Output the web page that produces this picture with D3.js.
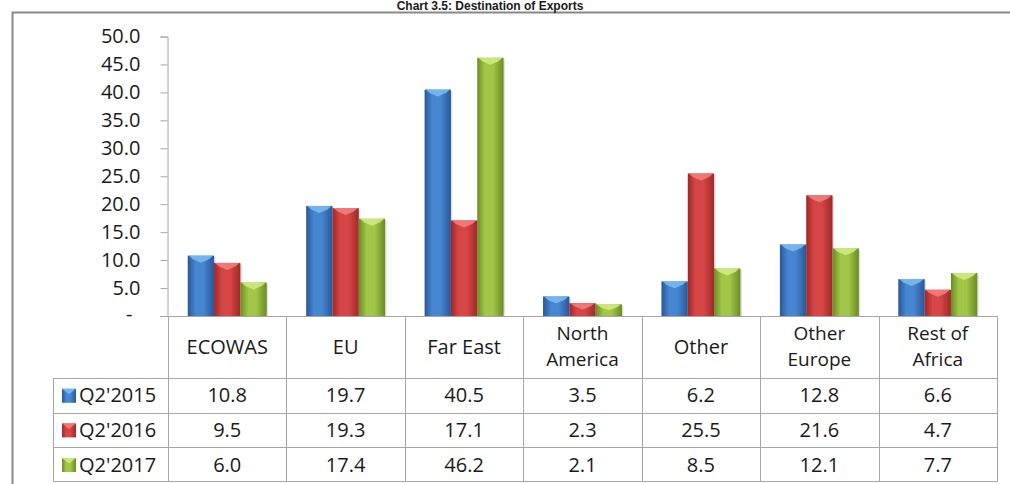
<!DOCTYPE html>
<html lang="en">
<head>
  <meta charset="UTF-8">
  <title>Destination of Exports</title>
  <style>
    body { margin: 0; background: #fff; }
    svg text { font-family: "Open Sans", sans-serif; fill: #1a1a1a; }
  </style>
</head>
<body>
  <div id="chart"></div>
  <script src="https://cdn.jsdelivr.net/npm/d3@7/dist/d3.min.js"></script>
  <script>
    // data
    const categories = ["ECOWAS", "EU", "Far East", "North America", "Other", "Other Europe", "Rest of Africa"]
    const categoryLines = [["ECOWAS"], ["EU"], ["Far East"], ["North", "America"], ["Other"], ["Other", "Europe"], ["Rest of", "Africa"]]
    const seriesNames = ["Q2'2015", "Q2'2016", "Q2'2017"]
    const q2015 = [10.8, 19.7, 40.5, 3.5, 6.2, 12.8, 6.6]
    const q2016 = [9.5, 19.3, 17.1, 2.3, 25.5, 21.6, 4.7]
    const q2017 = [6.0, 17.4, 46.2, 2.1, 8.5, 12.1, 7.7]
    const yTicks = [0, 5, 10, 15, 20, 25, 30, 35, 40, 45, 50]
    const seriesValues = [q2015, q2016, q2017]

    // colours: [edge, mid, top highlight]
    const colors = [
      ["#28579a", "#4786d0", "#7cbcf2"],
      ["#a02828", "#d64646", "#f48080"],
      ["#6a8c24", "#a2c648", "#d2ec86"]
    ]

    const W = 1010, H = 484
    const svg = d3.select("#chart").append("svg")
      .attr("width", W).attr("height", H)

    const defs = svg.append("defs")
    colors.forEach((c, i) => {
      const g = defs.append("linearGradient").attr("id", "grad" + i)
        .attr("x1", "0%").attr("x2", "100%").attr("y1", "0%").attr("y2", "0%")
      g.append("stop").attr("offset", "0%").attr("stop-color", c[0])
      g.append("stop").attr("offset", "30%").attr("stop-color", c[1])
      g.append("stop").attr("offset", "60%").attr("stop-color", c[1])
      g.append("stop").attr("offset", "100%").attr("stop-color", c[0])
    })

    // outer frame + title
    svg.append("path")
      .attr("d", `M12.5,${H} V12.5 H${W}`)
      .attr("fill", "none").attr("stroke", "#888").attr("stroke-width", 2)
    svg.append("text")
      .attr("x", 490).attr("y", 10)
      .attr("text-anchor", "middle")
      .attr("font-size", "12px").attr("font-weight", "bold")
      .style("font-family", "Liberation Sans, Arial, sans-serif")
      .text("Chart 3.5: Destination of Exports")

    // scales
    const plotLeft = 168, plotRight = 997
    const x0 = d3.scaleBand().domain(categories).range([plotLeft, plotRight])
    const bw = x0.bandwidth()
    const x1 = d3.scaleBand().domain(seriesNames).range([bw / 6, bw * 5 / 6])
    const y = d3.scaleLinear().domain([0, 50]).range([316, 36.5])

    const lineColor = "#a6a6a6"
    const fs = "20px"

    // y axis
    const yAxis = d3.axisLeft(y)
      .tickValues(yTicks)
      .tickSize(7)
      .tickPadding(20)
      .tickFormat(d => d === 0 ? "-" : d3.format(".1f")(d))
    const gy = svg.append("g")
      .attr("transform", `translate(${plotLeft - 0.5},0)`)
      .call(yAxis)
    gy.select(".domain").attr("stroke", lineColor)
    gy.selectAll(".tick line").attr("stroke", lineColor)
    gy.selectAll(".tick text")
      .attr("font-size", fs)
      .style("font-family", "Open Sans, sans-serif")
      .attr("fill", "#1a1a1a")
    gy.selectAll(".tick text").filter(d => d === 0).attr("dx", -8).attr("dy", "0.2em")

    // bars
    const groups = svg.append("g").selectAll("g")
      .data(categories)
      .join("g")
      .attr("transform", d => `translate(${x0(d)},0)`)

    seriesNames.forEach((s, si) => {
      const bars = groups.append("g")
      bars.append("rect")
        .attr("x", x1(s) + 1.5)
        .attr("y", (d, i) => y(seriesValues[si][i]) + 1.5)
        .attr("width", x1.bandwidth())
        .attr("height", (d, i) => y(0) - y(seriesValues[si][i]) - 1.5)
        .attr("fill", "#000").attr("opacity", 0.12)
      bars.append("rect")
        .attr("x", x1(s))
        .attr("y", (d, i) => y(seriesValues[si][i]))
        .attr("width", x1.bandwidth())
        .attr("height", (d, i) => y(0) - y(seriesValues[si][i]))
        .attr("fill", `url(#grad${si})`)
      bars.append("path")
        .attr("d", (d, i) => {
          const bx = x1(s), by = y(seriesValues[si][i]), w = x1.bandwidth()
          const h = Math.min(7, (y(0) - by) / 2)
          return `M${bx + 1},${by} L${bx + w - 1},${by} L${bx + w - 5},${by + h * 0.5} L${bx + w / 2},${by + h} L${bx + 5},${by + h * 0.5} Z`
        })
        .attr("fill", colors[si][2])
        .attr("opacity", 0.85)
    })

    // data table
    const rowTop = 316, catBottom = 378, rowH = 34.6
    const legendLeft = 53
    const tableBottom = catBottom + rowH * 3
    const grid = svg.append("g").attr("stroke", lineColor).attr("stroke-width", 1)
      .attr("fill", "none")

    grid.append("line").attr("x1", 160).attr("x2", plotRight)
      .attr("y1", rowTop + 0.5).attr("y2", rowTop + 0.5)
    d3.range(3).forEach(r => {
      const yy = Math.round(catBottom + r * rowH) + 0.5
      grid.append("line").attr("x1", legendLeft).attr("x2", plotRight)
        .attr("y1", yy).attr("y2", yy)
    })
    grid.append("line").attr("x1", legendLeft).attr("x2", plotRight)
      .attr("y1", Math.round(tableBottom) - 0.5).attr("y2", Math.round(tableBottom) - 0.5)
    categories.forEach(c => {
      const xx = Math.round(x0(c)) + 0.5
      grid.append("line").attr("x1", xx).attr("x2", xx)
        .attr("y1", rowTop).attr("y2", tableBottom)
    })
    grid.append("line").attr("x1", plotRight + 0.5).attr("x2", plotRight + 0.5)
      .attr("y1", rowTop).attr("y2", tableBottom)
    grid.append("line").attr("x1", legendLeft + 0.5).attr("x2", legendLeft + 0.5)
      .attr("y1", catBottom).attr("y2", tableBottom)

    // category labels (one text per line)
    categories.forEach((c, i) => {
      const lines = categoryLines[i]
      const two = lines.length > 1
      lines.forEach((t, k) => {
        svg.append("text")
          .attr("text-anchor", "middle")
          .attr("font-size", two ? "19px" : fs)
          .attr("x", x0(c) + bw / 2)
          .attr("y", two ? 340 + k * 26 : 354)
          .text(t)
      })
    })

    // rows with legend keys and values
    seriesNames.forEach((s, si) => {
      const cy = catBottom + si * rowH + rowH / 2
      svg.append("rect")
        .attr("x", 62).attr("y", cy - 6.5)
        .attr("width", 14).attr("height", 14)
        .attr("fill", `url(#grad${si})`)
      svg.append("path")
        .attr("d", `M62,${cy - 6.5} L76,${cy - 6.5} L69,${cy - 1} Z`)
        .attr("fill", colors[si][2]).attr("opacity", 0.85)
      svg.append("text")
        .attr("x", 79).attr("y", cy + 7)
        .attr("font-size", fs)
        .text(s)
      svg.append("g").selectAll("text")
        .data(categories)
        .join("text")
        .attr("text-anchor", "middle")
        .attr("font-size", fs)
        .attr("x", d => x0(d) + bw / 2)
        .attr("y", cy + 7)
        .text((d, i) => d3.format(".1f")(seriesValues[si][i]))
    })
  </script>
</body>
</html>
